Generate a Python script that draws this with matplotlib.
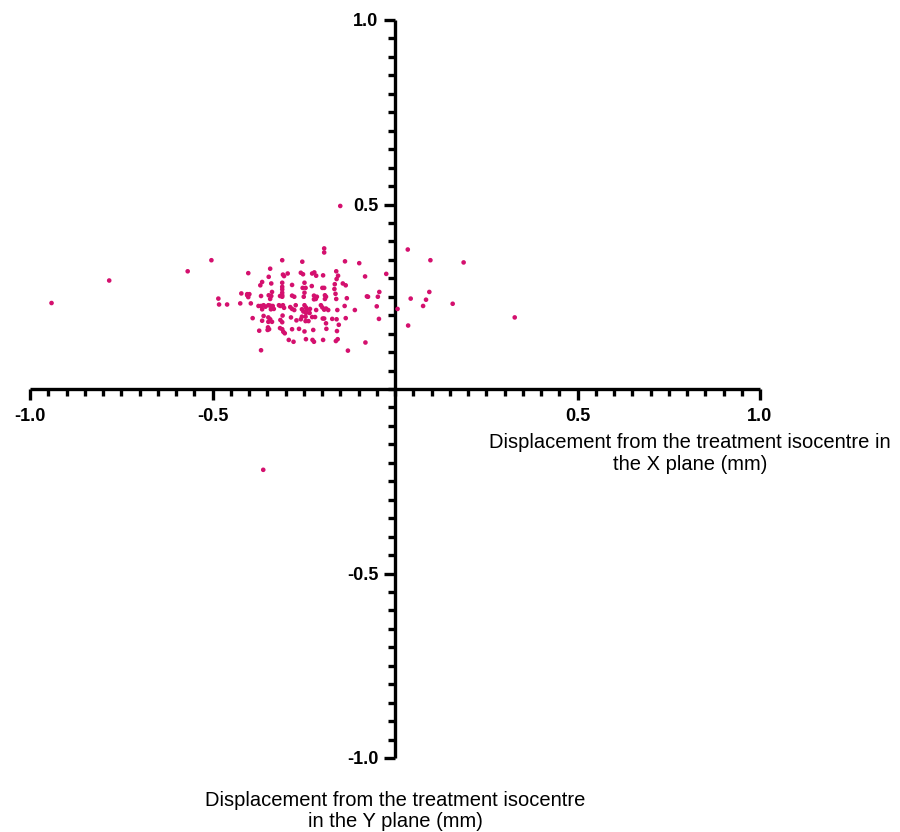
import matplotlib
matplotlib.use("Agg")
import matplotlib.pyplot as plt
from matplotlib.ticker import MultipleLocator, FixedLocator

plt.rcParams['font.family'] = ['Liberation Sans', 'DejaVu Sans']

# Displacement data (mm)
x_disp = [
    -0.194, -0.194, -0.503, -0.309, -0.254, -0.137, -0.098, -0.342, -0.402, -0.307,
    -0.304, -0.294, -0.258, -0.252, -0.227, -0.221, -0.216, -0.197, -0.161, -0.156,
    -0.160, -0.082, -0.024, -0.346, -0.364, -0.369, -0.339, -0.309, -0.309, -0.309,
    -0.309, -0.309, -0.282, -0.248, -0.228, -0.253, -0.245, -0.199, -0.194, -0.165,
    -0.166, -0.143, -0.135, -0.043, -0.047, -0.421, -0.405, -0.399, -0.402, -0.405,
    -0.337, -0.367, -0.346, -0.339, -0.342, -0.315, -0.309, -0.282, -0.276, -0.248,
    -0.250, -0.222, -0.217, -0.222, -0.214, -0.192, -0.189, -0.192, -0.163, -0.161,
    -0.132, -0.077, -0.074, -0.484, -0.482, -0.460, -0.424, -0.395, -0.374, -0.367,
    -0.360, -0.355, -0.364, -0.347, -0.342, -0.340, -0.335, -0.332, -0.318, -0.314,
    -0.307, -0.304, -0.287, -0.282, -0.276, -0.272, -0.255, -0.251, -0.248, -0.244,
    -0.242, -0.233, -0.234, -0.244, -0.216, -0.203, -0.199, -0.194, -0.189, -0.183,
    -0.158, -0.138, -0.110, -0.050, 0.007, -0.390, -0.360, -0.364, -0.347, -0.342,
    -0.337, -0.347, -0.308, -0.314, -0.309, -0.285, -0.270, -0.258, -0.255, -0.245,
    -0.245, -0.237, -0.227, -0.219, -0.198, -0.194, -0.189, -0.172, -0.160, -0.154,
    -0.135, -0.044, -0.372, -0.348, -0.345, -0.349, -0.315, -0.309, -0.306, -0.302,
    -0.282, -0.263, -0.248, -0.224, -0.188, -0.159, -0.291, -0.278, -0.244, -0.226,
    -0.222, -0.197, -0.162, -0.157, -0.081, -0.367, -0.129, -0.150, 0.035, 0.097,
    0.188, 0.043, 0.094, 0.085, 0.077, 0.158, 0.328, 0.036, -0.941, -0.783,
    -0.568, -0.361,
]
y_disp = [
    0.381, 0.370, 0.349, 0.349, 0.345, 0.346, 0.341, 0.326, 0.314, 0.310,
    0.306, 0.313, 0.315, 0.311, 0.313, 0.316, 0.307, 0.308, 0.319, 0.307,
    0.298, 0.305, 0.312, 0.304, 0.290, 0.281, 0.286, 0.288, 0.277, 0.270,
    0.261, 0.254, 0.282, 0.288, 0.279, 0.274, 0.274, 0.274, 0.274, 0.284,
    0.271, 0.286, 0.281, 0.263, 0.250, 0.259, 0.257, 0.257, 0.249, 0.254,
    0.263, 0.252, 0.254, 0.252, 0.244, 0.252, 0.250, 0.253, 0.250, 0.261,
    0.250, 0.253, 0.244, 0.243, 0.250, 0.254, 0.250, 0.244, 0.258, 0.244,
    0.246, 0.251, 0.250, 0.245, 0.229, 0.229, 0.232, 0.232, 0.225, 0.225,
    0.227, 0.223, 0.216, 0.227, 0.226, 0.216, 0.225, 0.217, 0.227, 0.225,
    0.227, 0.220, 0.222, 0.217, 0.214, 0.227, 0.216, 0.210, 0.227, 0.221,
    0.214, 0.217, 0.206, 0.206, 0.214, 0.227, 0.221, 0.215, 0.218, 0.214,
    0.214, 0.225, 0.214, 0.224, 0.217, 0.192, 0.198, 0.185, 0.194, 0.189,
    0.182, 0.182, 0.199, 0.187, 0.181, 0.194, 0.186, 0.189, 0.196, 0.196,
    0.184, 0.184, 0.195, 0.195, 0.191, 0.191, 0.178, 0.190, 0.189, 0.174,
    0.192, 0.190, 0.158, 0.167, 0.162, 0.160, 0.165, 0.162, 0.155, 0.151,
    0.162, 0.163, 0.156, 0.160, 0.163, 0.157, 0.133, 0.128, 0.135, 0.133,
    0.128, 0.133, 0.130, 0.135, 0.126, 0.105, 0.104, 0.496, 0.378, 0.349,
    0.343, 0.245, 0.263, 0.242, 0.225, 0.231, 0.194, 0.172, 0.233, 0.294,
    0.319, -0.219,
]

major_ticks = [-1.0, -0.5, 0.5, 1.0]
tick_labels = ["-1.0", "-0.5", "0.5", "1.0"]

fig = plt.figure(figsize=(9, 8.32), dpi=100)
ax = fig.add_axes([30 / 900, 1 - 758 / 832, 730 / 900, 738 / 832])

ax.scatter(x_disp, y_disp, s=11, color='#D4106E', edgecolors='none', zorder=3)

ax.set_xlim(-1, 1)
ax.set_ylim(-1, 1)

for side in ['top', 'right']:
    ax.spines[side].set_visible(False)
ax.spines['left'].set_position(('data', 0))
ax.spines['bottom'].set_position(('data', 0))
for side in ['left', 'bottom']:
    ax.spines[side].set_linewidth(2.4)
    ax.spines[side].set_capstyle('butt')

ax.xaxis.set_major_locator(FixedLocator(major_ticks))
ax.yaxis.set_major_locator(FixedLocator(major_ticks))
ax.set_xticklabels(tick_labels, fontsize=13, fontweight='bold')
ax.set_yticklabels(tick_labels, fontsize=13, fontweight='bold')
ax.xaxis.set_minor_locator(MultipleLocator(0.05))
ax.yaxis.set_minor_locator(MultipleLocator(0.05))
ax.tick_params(axis='x', which='major', direction='out', length=8, width=2.4, pad=6)
ax.tick_params(axis='y', which='major', direction='out', length=8, width=2.4, pad=4)
ax.tick_params(which='minor', direction='out', length=5, width=2.4)

ax.patch.set_alpha(0)

fig.text(690 / 900, 1 - 454 / 832,
         "Displacement from the treatment isocentre in\nthe X plane (mm)",
         ha='center', va='center', fontsize=14.5, linespacing=1.2)
fig.text(395 / 900, 1 - 811 / 832,
         "Displacement from the treatment isocentre\nin the Y plane (mm)",
         ha='center', va='center', fontsize=14.5, linespacing=1.15)

fig.savefig("out.png", dpi=100)
